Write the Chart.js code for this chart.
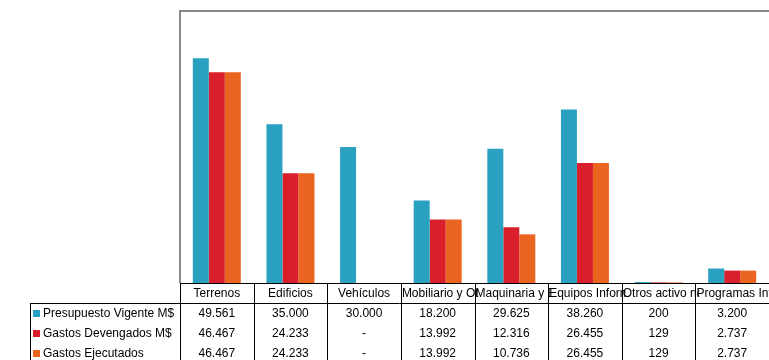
<!DOCTYPE html>
<html>
<head>
<meta charset="utf-8">
<script src="https://cdn.jsdelivr.net/npm/chart.js@4"></script>
<style>
  html, body { margin: 0; padding: 0; background: #fff; }
  #wrap { width: 769px; height: 360px; position: relative; }
</style>
</head>
<body>
<div id="wrap"><canvas id="chart"></canvas></div>
<script>
// Inversión por ítem, en M$
const categorias = ['Terrenos', 'Edificios', 'Vehículos', 'Mobiliario y Otros', 'Maquinaria y Equipos',
  'Equipos Informáticos', 'Otros activo no financieros', 'Programas Informáticos'];
const presupuestoVigente = [49561, 35000, 30000, 18200, 29625, 38260, 200, 3200];
const gastosDevengados   = [46467, 24233, null, 13992, 12316, 26455, 129, 2737];
const gastosEjecutados   = [46467, 24233, null, 13992, 10736, 26455, 129, 2737];

const serieNombres = ['Presupuesto Vigente M$', 'Gastos Devengados M$', 'Gastos Ejecutados'];
const serieColores = ['#2aa1c0', '#d91f2b', '#ea6620'];
const series = [presupuestoVigente, gastosDevengados, gastosEjecutados];

const FONT = '12px "Liberation Sans", Arial, sans-serif';

// separador de miles con punto; sin dato -> guion
const fmt = v => v == null ? '-' : String(v).replace(/\B(?=(\d{3})+(?!\d))/g, '.');

// marco del área de gráfico + tabla de datos bajo el eje
const tablaDatos = {
  id: 'tablaDatos',
  afterDraw(chart) {
    const { ctx, chartArea: a, scales: { x } } = chart;
    const rowH = 20;
    const top = a.bottom;
    const n = categorias.length;
    const colW = (a.right - a.left) / n;
    const legLeft = 30;

    ctx.save();
    // borde gris del área
    ctx.strokeStyle = '#888';
    ctx.lineWidth = 2;
    ctx.beginPath();
    ctx.moveTo(a.left, a.bottom);
    ctx.lineTo(a.left, a.top);
    ctx.lineTo(a.right + 2, a.top);
    ctx.stroke();

    // líneas de la tabla
    ctx.strokeStyle = '#000';
    ctx.lineWidth = 1;
    ctx.beginPath();
    ctx.moveTo(a.left, top + 0.5);
    ctx.lineTo(a.right, top + 0.5);
    ctx.moveTo(legLeft, top + rowH + 0.5);
    ctx.lineTo(a.right, top + rowH + 0.5);
    ctx.moveTo(legLeft + 0.5, top + rowH);
    ctx.lineTo(legLeft + 0.5, chart.height);
    for (let i = 0; i <= n; i++) {
      const xx = Math.round(a.left + i * colW) + 0.5;
      ctx.moveTo(xx, top);
      ctx.lineTo(xx, chart.height);
    }
    ctx.stroke();

    ctx.font = FONT;
    ctx.fillStyle = '#000';
    ctx.textBaseline = 'middle';

    // encabezados (categorías), recortados al ancho de la celda
    categorias.forEach((c, i) => {
      const cx = x.getPixelForValue(i);
      const l = a.left + i * colW;
      const w = ctx.measureText(c).width;
      ctx.save();
      ctx.beginPath();
      ctx.rect(l + 1, top + 1, colW + 3, rowH - 1);
      ctx.clip();
      if (w > colW - 4) {
        ctx.textAlign = 'left';
        ctx.fillText(c, l + 1, top + rowH / 2 + 1);
      } else {
        ctx.textAlign = 'center';
        ctx.fillText(c, cx, top + rowH / 2 + 1);
      }
      ctx.restore();
    });

    // filas de datos con su leyenda
    series.forEach((s, r) => {
      const cy = top + rowH * (r + 1) + rowH / 2 + 1;
      ctx.fillStyle = serieColores[r];
      ctx.fillRect(legLeft + 3, cy - 4, 7, 7);
      ctx.fillStyle = '#000';
      ctx.textAlign = 'left';
      ctx.fillText(serieNombres[r], legLeft + 13, cy);
      ctx.textAlign = 'center';
      s.forEach((v, i) => ctx.fillText(fmt(v), x.getPixelForValue(i), cy));
    });
    ctx.restore();
  }
};

new Chart(document.getElementById('chart'), {
  type: 'bar',
  data: {
    labels: categorias,
    datasets: series.map((s, i) => ({
      label: serieNombres[i],
      data: s,
      backgroundColor: serieColores[i],
      borderWidth: 0,
      categoryPercentage: 0.652,
      barPercentage: 1,
    })),
  },
  options: {
    responsive: true,
    maintainAspectRatio: false,
    animation: false,
    layout: { padding: { left: 180, top: 11, right: 0, bottom: 77 } },
    scales: {
      x: { display: false },
      y: { display: false, min: 0, max: 60000 },
    },
    plugins: {
      legend: { display: false },
      tooltip: { enabled: false },
    },
  },
  plugins: [tablaDatos],
});
</script>
</body>
</html>
